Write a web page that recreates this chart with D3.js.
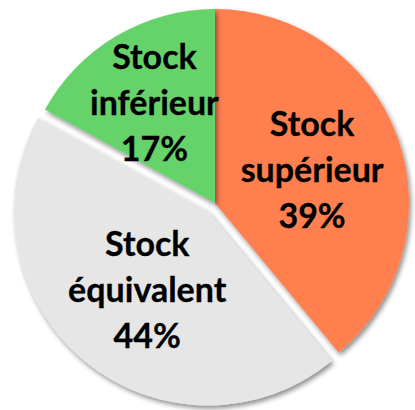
<!DOCTYPE html>
<html>
<head>
<meta charset="utf-8">
<script src="https://cdn.jsdelivr.net/npm/d3@7"></script>
<style>
  body { margin: 0; background: #fff; }
  svg text { font-family: Lato, "Open Sans", sans-serif; font-weight: 700; }
</style>
</head>
<body>
<script>
const categories = ['Stock supérieur', 'Stock équivalent', 'Stock inférieur']
const labelLines = [['Stock', 'supérieur'], ['Stock', 'équivalent'], ['Stock', 'inférieur']]
const shares = [39, 44, 17]
const colors = ['#FF7F50', '#E6E6E6', '#66D36B']
const exploded = 'Stock équivalent'

const w = 415
const h = 410
const cx = 215
const cy = 203
const radius = 194
const explodeBy = 11

const data = categories.map((c, i) => ({ cat: c, lines: labelLines[i], value: shares[i], color: colors[i] }))

const svg = d3.select('body')
    .append('svg')
    .attr('width', w)
    .attr('height', h)

const defs = svg.append('defs')
defs.append('filter')
    .attr('id', 'shadow')
    .attr('x', '-20%').attr('y', '-20%')
    .attr('width', '140%').attr('height', '140%')
    .append('feDropShadow')
    .attr('dx', 2)
    .attr('dy', 3)
    .attr('stdDeviation', 2.8)
    .attr('flood-color', '#000')
    .attr('flood-opacity', 0.45)

const pie = d3.pie().sort(null).value(d => d.value)
const arc = d3.arc().innerRadius(0).outerRadius(radius)
const arcs = pie(data)

// shift of the pulled-out slice along its bisector
function offset(d) {
    if (d.data.cat !== exploded) return [0, 0]
    const a = (d.startAngle + d.endAngle) / 2
    return [Math.sin(a) * explodeBy, -Math.cos(a) * explodeBy]
}

// exploded slice goes underneath so the others cast shadows on it
const drawOrder = arcs.slice().sort((a, b) => (b.data.cat === exploded) - (a.data.cat === exploded))

const g = svg.append('g').attr('transform', `translate(${cx},${cy})`)

g.selectAll('path')
    .data(drawOrder)
    .enter()
    .append('path')
    .attr('d', arc)
    .attr('fill', d => d.data.color)
    .attr('filter', 'url(#shadow)')
    .attr('transform', d => `translate(${offset(d)})`)

const lineH = 46
// small slice label sits further out, like excel's best fit
const labelR = d => d.data.value < 25 ? 117 : 100
const nudgeX = d => d.data.value < 25 ? -1 : 3

const labels = g.selectAll('text.lbl')
    .data(arcs)
    .enter()
    .append('text')
    .attr('class', 'lbl')
    .attr('text-anchor', 'middle')
    .attr('font-size', 34)
    .attr('fill', '#000')
    .attr('stroke', '#000')
    .attr('stroke-width', 0.3)
    .attr('transform', d => {
        const a = (d.startAngle + d.endAngle) / 2
        const [ox, oy] = offset(d)
        return `translate(${ox + Math.sin(a) * labelR(d) + nudgeX(d)},${oy - Math.cos(a) * labelR(d) + 2})`
    })

labels.each(function (d) {
    const t = d3.select(this)
    const rows = d.data.lines.concat([d.data.value + '%'])
    rows.forEach((r, i) => {
        t.append('tspan')
            .attr('x', 0)
            .attr('y', (i - 1) * lineH + 11)
            .text(r)
    })
})
</script>
</body>
</html>
